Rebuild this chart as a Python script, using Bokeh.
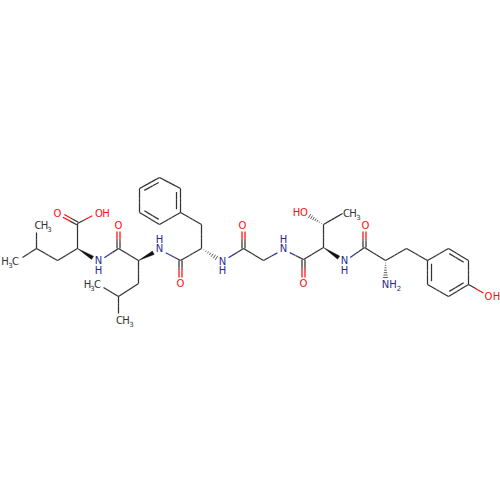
from bokeh.plotting import figure
from bokeh.models import Range1d
from bokeh.core.properties import value
from bokeh.embed import file_html
from bokeh.resources import INLINE
import math

# atoms: name -> position
atom_names = ["me1","ch1","me2","cb1","ca1","c1","o1a","o1b","n1","c2","o2","ca2","cb2","cg2","me3","me4",
              "n2","c3","o3","ca3","cb3","r1","r2","r3","r4","r5","r6","n3","c4","o4","ca4","n4","c5","o5",
              "ca5","cb5","me5","oh5","n5","c6","o6","ca6","n6","cb6","s1","s2","s3","s4","s5","s6","oh6"]
atom_x = [22,36,36,57,77,77,57,98,98,118,118,138,138,118,103,118,
          159,180,180,201,201,180,159,139,139,159,180,222,243,243,263,283,303,303,
          323,323,342,303,344,364,364,385,385,406,427,427,448,468,468,448,489]
atom_y = [257,248,232,260,248,223,212,212,261,248,224,260,283,296,287,313,
          249,260,284,248,224,212,224,212,188,177,188,261,248,224,260,249,259,284,
          247,224,213,212,261,247,224,260,284,248,260,284,296,284,260,248,296]
elements = {"o1a":"O","o1b":"O","n1":"N","o2":"O","n2":"N","o3":"O","n3":"N","o4":"O","n4":"N","o5":"O",
            "oh5":"O","n5":"N","o6":"O","n6":"N","oh6":"O"}
# bonds: begin, end
single_a = ["me1","me2","ch1","cb1","ca1","c1","n1","c2","ca2","cb2","cg2","cg2","n2","c3","ca3","r1",
            "r2","r4","r6","n3","c4","ca4","n4","c5","ca5","cb5","n5","c6","cb6","s1","s3","s5","s6","s4"]
single_b = ["ch1","ch1","cb1","ca1","c1","o1b","c2","ca2","cb2","cg2","me3","me4","c3","ca3","cb3","cb3",
            "r1","r3","r5","c4","ca4","n4","c5","ca5","cb5","me5","c6","ca6","ca6","cb6","s2","s4","s1","oh6"]
double_a = ["c1","c2","c3","c4","c5","c6"]
double_b = ["o1a","o2","o3","o4","o5","o6"]
ring_a = ["r1","r3","r5","s1","s3","s5"]
ring_b = ["r6","r2","r4","s2","s4","s6"]
ring_centre = [(159.5,200.5)]*3 + [(447.5,272)]*3
wedge_bold = [("ca1","n1"),("ca2","n2"),("ca5","n5")]
wedge_hash = [("ca3","n3"),("cb5","oh5"),("ca6","n6")]

# text labels, each glyph placed on its own: x, y, text
oxygen_labels = [(57,213,"O"),(118,225,"O"),(180,283,"O"),(242,225,"O"),(303,283,"O"),(365,225,"O"),
                 (98.5,213,"O"),(105.5,213,"H"),(296,212,"H"),(303.5,212,"O"),(488,296,"O"),(496,296,"H")]
nitrogen_labels = [(98,260,"N"),(98,270,"H"),(159,248,"N"),(159,239,"H"),(222,261,"N"),(222,270,"H"),
                   (283,248,"N"),(283,239,"H"),(344,260,"N"),(344,270,"H"),(385,284,"N"),(392.5,284,"H")]
nitrogen_subs = [(398.5,287.5,"2")]
carbon_labels = [(37.5,225,"C"),(44,225,"H"),(119,320,"C"),(125.5,320,"H"),(346,213,"C"),(352.5,213,"H"),
                 (4.5,261,"H"),(15,261,"C"),(87,284,"H"),(97,284,"C")]
carbon_subs = [(49,228,"3"),(131,323,"3"),(358,216,"3"),(10,264,"3"),(92,287,"3")]

atoms = {n:(x,y) for n,x,y in zip(atom_names,atom_x,atom_y)}
COL = {"C":(51,51,51),"N":(51,51,160),"O":(255,13,13)}
GREY = "#333333"
GAP = {"N":7.0,"O":7.0,"C":0.0}
BOND_W = 1.25

p = figure(width=500, height=500, output_backend="svg", toolbar_location=None,
           x_range=Range1d(0,500), y_range=Range1d(500,0), min_border=0,
           outline_line_color=None, background_fill_color="white")
p.xaxis.visible = False
p.yaxis.visible = False
p.grid.visible = False

def ends(a,b):
    x0,y0=atoms[a]; x1,y1=atoms[b]
    L=math.hypot(x1-x0,y1-y0)
    g0=GAP[elements.get(a,"C")]/L; g1=1-GAP[elements.get(b,"C")]/L
    return x0+(x1-x0)*g0,y0+(y1-y0)*g0,x0+(x1-x0)*g1,y0+(y1-y0)*g1

def colored(xa,ya,xb,yb,ea,eb):
    ca,cb=COL[ea],COL[eb]
    mix=tuple((u+v)//2 for u,v in zip(ca,cb))
    def P(f): return xa+(xb-xa)*f,ya+(yb-ya)*f
    a0,a1=P(0),P(0.42); b0,b1=P(0.58),P(1)
    p.segment(*a0,*a1,line_color=ca,line_width=BOND_W)
    p.segment(*a1,*b0,line_color=mix,line_width=BOND_W)
    p.segment(*b0,*b1,line_color=cb,line_width=BOND_W)

def E(n): return elements.get(n,"C")

for a,b in zip(single_a,single_b):
    colored(*ends(a,b),E(a),E(b))
for a,b in zip(double_a,double_b):
    xa,ya,xb,yb=ends(a,b)
    L=math.hypot(xb-xa,yb-ya);nx,ny=-(yb-ya)/L*1.5,(xb-xa)/L*1.5
    colored(xa+nx,ya+ny,xb+nx,yb+ny,E(a),E(b))
    colored(xa-nx,ya-ny,xb-nx,yb-ny,E(a),E(b))
for (a,b),(cx,cy) in zip(zip(ring_a,ring_b),ring_centre):
    xa,ya,xb,yb=ends(a,b)
    colored(xa,ya,xb,yb,"C","C")
    mx,my=(xa+xb)/2,(ya+yb)/2
    dx,dy=cx-mx,cy-my;L=math.hypot(dx,dy)
    ox,oy=dx/L*4,dy/L*4
    f=0.14
    colored(xa+(xb-xa)*f+ox,ya+(yb-ya)*f+oy,xb-(xb-xa)*f+ox,yb-(yb-ya)*f+oy,"C","C")
for a,b in wedge_bold:
    x0,y0,x1,y1=ends(a,b)
    L=math.hypot(x1-x0,y1-y0);nx,ny=-(y1-y0)/L*1.9,(x1-x0)/L*1.9
    p.patch([x0,x1+nx,x1-nx],[y0,y1+ny,y1-ny],fill_color="#111111",line_color="#111111",line_width=0.4)
for a,b in wedge_hash:
    x0,y0,x1,y1=ends(a,b)
    L=math.hypot(x1-x0,y1-y0);nx,ny=-(y1-y0)/L,(x1-x0)/L
    for i in range(1,8):
        f=i/7.0;w=f*2.4
        p.segment(x0+(x1-x0)*f+nx*w,y0+(y1-y0)*f+ny*w,x0+(x1-x0)*f-nx*w,y0+(y1-y0)*f-ny*w,
                  line_color=GREY,line_width=0.8)

FONT=value("DejaVu Sans")
def t(items,c,size):
    p.text([i[0] for i in items],[i[1] for i in items],text=[i[2] for i in items],text_color=c,
           text_font=FONT,text_font_size=size,text_align="center",text_baseline="middle")
t(oxygen_labels,"#ff0d0d","10px")
t(nitrogen_labels,"#2a2a90","10px")
t(nitrogen_subs,"#2a2a90","7px")
t(carbon_labels,GREY,"10px")
t(carbon_subs,GREY,"7px")

open("out.html","w").write(file_html(p,INLINE))
